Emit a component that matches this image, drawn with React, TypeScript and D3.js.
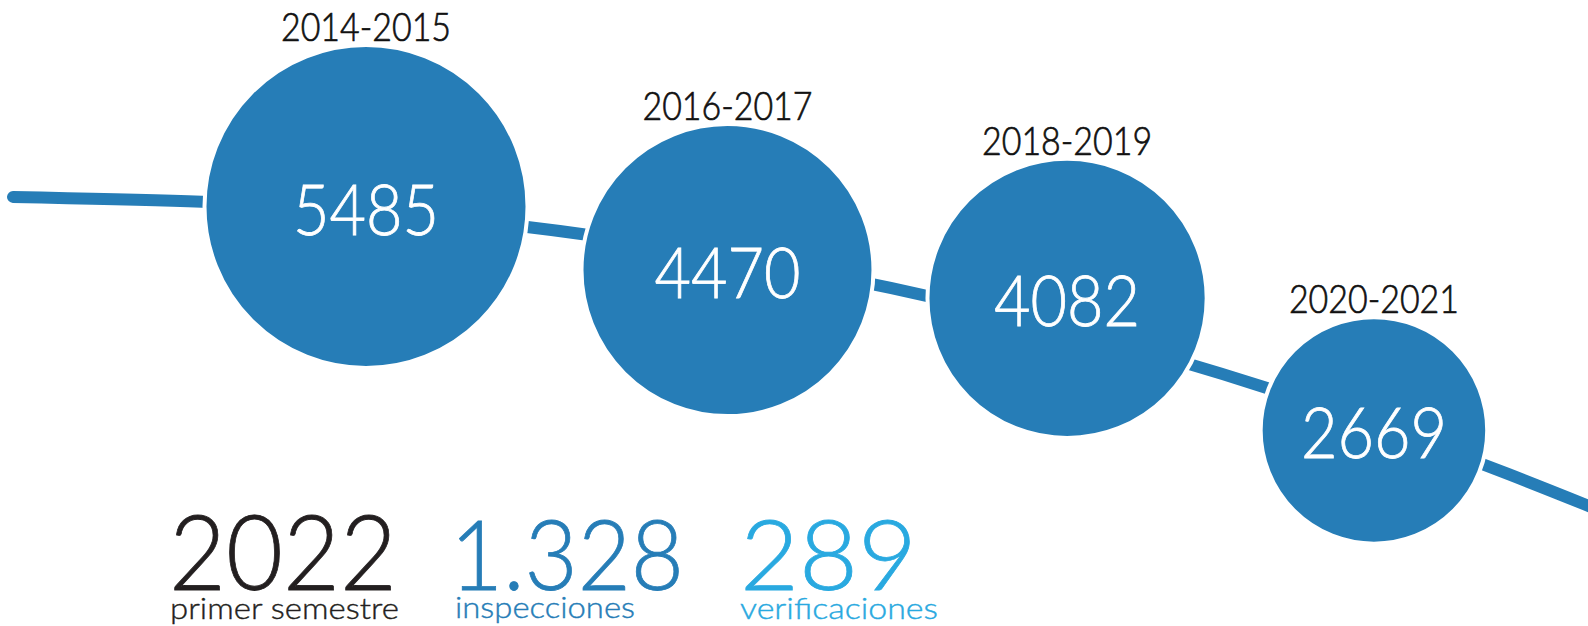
import React from "react";
import * as d3 from "d3";

// inspections per two-year period
const periods = ["2014-2015", "2016-2017", "2018-2019", "2020-2021"];
const inspections = [5485, 4470, 4082, 2669];

// level of the connecting line: lead-in, each period, lead-out
const trendLevels = [5656, 5409, 4670, 3689, 2724, 1974];

// 2022 summary
const summaryYear = "2022";
const summaryNote = "primer semestre";
const summaryValues = [1328, 289];
const summaryLabels = ["inspecciones", "verificaciones"];

const width = 1588;
const height = 626;

const blue = "#267db7";
const lightBlue = "#29a9e0";
const dark = "#231f20";

const esFormat = d3.formatLocale({
  decimal: ",",
  thousands: ".",
  grouping: [3],
  currency: ["", " €"],
}).format(",d");

const App = () => {
  const r = d3.scaleSqrt().domain([0, d3.max(inspections)]).range([0, 159.5]);
  const y = d3.scaleLog().domain([2669, 5485]).range([430.4, 206.5]);

  // circles packed left to right with an even gap
  const gap = 58;
  const xs: number[] = [];
  inspections.forEach((v, i) => {
    if (i === 0) xs.push(366);
    else xs.push(xs[i - 1] + r(inspections[i - 1]) + r(v) + gap);
  });

  const trendX = [xs[0] - 353, ...xs, xs[xs.length - 1] + 260];
  const linePath = d3
    .line<number>()
    .x((_, i) => trendX[i])
    .y((d) => y(d))
    .curve(d3.curveNatural)(trendLevels);

  const font = "Lato, 'Open Sans', sans-serif";

  return (
    <svg width={width} height={height} style={{ display: "block" }}>
      <style>{`body{margin:0}`}</style>
      <path d={linePath || ""} fill="none" stroke={blue} strokeWidth={12} strokeLinecap="round" />
      {inspections.map((v, i) => {
        const cx = xs[i];
        const cy = y(v);
        const rad = r(v);
        return (
          <g key={periods[i]}>
            <circle cx={cx} cy={cy} r={rad + 2} fill={blue} stroke="#fff" strokeWidth={4} />
            <text
              x={cx}
              y={cy - rad - 6}
              textAnchor="middle"
              fontFamily={font}
              fontWeight={300}
              fontSize={40}
              fill="#111"
              stroke="#111"
              strokeWidth={0.7}
              textLength={170}
              lengthAdjust="spacingAndGlyphs"
            >
              {periods[i]}
            </text>
            <text
              x={cx}
              y={cy + 28}
              textAnchor="middle"
              fontFamily={font}
              fontWeight={300}
              fontSize={70}
              fill="#fff"
              stroke="#fff"
              strokeWidth={0.8}
              textLength={146}
              lengthAdjust="spacingAndGlyphs"
            >
              {v}
            </text>
          </g>
        );
      })}

      <g fontFamily={font} fontWeight={300}>
        <text x={169} y={590} fontSize={104} fill={dark} stroke={dark} strokeWidth={0.8} textLength={228} lengthAdjust="spacingAndGlyphs">
          {summaryYear}
        </text>
        <text x={170} y={619} fontSize={30} fill={dark} stroke={dark} strokeWidth={0.4} textLength={229} lengthAdjust="spacingAndGlyphs">
          {summaryNote}
        </text>
        <text x={450} y={590} fontSize={97} fill={blue} stroke={blue} strokeWidth={0.8} textLength={234} lengthAdjust="spacingAndGlyphs">
          {esFormat(summaryValues[0])}
        </text>
        <text x={455} y={618} fontSize={30} fill={blue} stroke={blue} strokeWidth={0.4} textLength={180} lengthAdjust="spacingAndGlyphs">
          {summaryLabels[0]}
        </text>
        <text x={740} y={590} fontSize={97} fill={lightBlue} stroke={lightBlue} strokeWidth={0.8} textLength={177} lengthAdjust="spacingAndGlyphs">
          {esFormat(summaryValues[1])}
        </text>
        <text x={740} y={619} fontSize={30} fill={lightBlue} stroke={lightBlue} strokeWidth={0.4} textLength={198} lengthAdjust="spacingAndGlyphs">
          {summaryLabels[1]}
        </text>
      </g>
    </svg>
  );
};

export default App;
